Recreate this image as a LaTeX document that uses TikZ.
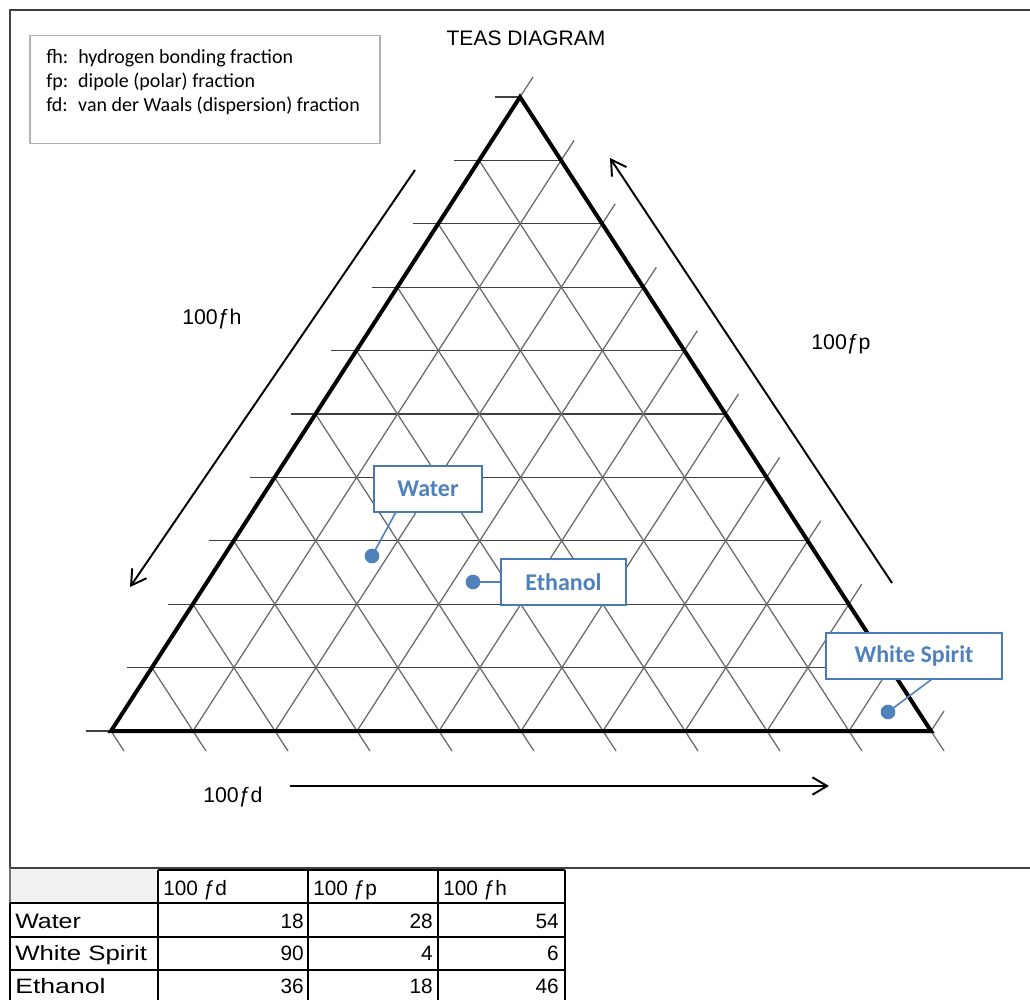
\documentclass[tikz,border=0pt]{standalone}
\usepackage{fontspec}
\setmainfont{Liberation Sans}
\newfontfamily\calfont{Carlito}
\usetikzlibrary{arrows.meta,calc}
\definecolor{callblue}{HTML}{4F81BD}
\definecolor{callborder}{HTML}{4A7AB5}
\tikzset{
  hgrid/.style={draw=black!75, line width=0.95pt},
  dgrid/.style={draw=black!58, line width=0.95pt},
  border/.style={draw=black, line width=3pt, line join=miter},
  axarrow/.style={draw=black, line width=1.45pt, -{Straight Barb[length=11pt,width=13pt,line width=1.45pt]}},
  axlabel/.style={inner sep=0pt, anchor=base west, font=\fontsize{16}{18}\selectfont},
  legendbox/.style={draw=black!30, line width=1.1pt, minimum width=262.5pt, minimum height=81pt, inner sep=0pt},
  legtxt/.style={inner sep=0pt, anchor=base west, font=\calfont\fontsize{15}{18}\selectfont},
  callbox/.style={draw=callborder, line width=1.3pt, fill=white, text=callblue, inner sep=0pt, minimum height=34.5pt, font=\calfont\bfseries\fontsize{18}{20}\selectfont},
  calldot/.style={circle, fill=callblue, inner sep=0pt, minimum size=11pt},
  callline/.style={draw=callblue, line width=1.2pt},
  frameline/.style={draw=black!75, line width=1.5pt},
  tabtxt/.style={inner sep=0pt, font=\fontsize{15.6}{18}\selectfont},
  tthick/.style={draw=black, line width=1.7pt},
  tthin/.style={draw=black, line width=0.8pt}
}
\begin{document}
\begin{tikzpicture}[x=0.75pt,y=-0.75pt]
\useasboundingbox (0,0) rectangle (1030,1000);
\fill[white] (0,0) rectangle (1030,1000);
% frame
\draw[frameline] (1030,10) -- (10,10) -- (10,868) -- (1030,868);
% title
\node[inner sep=0pt, anchor=base, font=\fontsize{15.75}{18}\selectfont] (title) at (526,45) {TEAS DIAGRAM};
% legend
\node[legendbox] (legend) at (205,89.5) {};
\node[legtxt] (leg1) at (46,63) {\makebox[24pt][l]{fh:}hydrogen bonding fraction};
\node[legtxt] (leg2) at (46,87) {\makebox[24pt][l]{fp:}dipole (polar) fraction};
\node[legtxt] (leg3) at (46,111) {\makebox[24pt][l]{fd:}van der Waals (dispersion) fraction};
% triangle corners
\coordinate (A) at (111,731);
\coordinate (B) at (931,731);
\coordinate (C) at (520,97);
% horizontal grid
\foreach \k in {0,...,10} {
  \draw[hgrid] ($(A)!{\k/10}!(C)$) ++(-25,0) -- ($(B)!{\k/10}!(C)$);
}
% lines parallel to left edge (up-right), extended beyond right edge
\foreach \j in {0,...,10} {
  \draw[dgrid] ($(A)!{\j/10}!(B)$) -- ($(B)!{1-\j/10}!(C)$) -- ++(13,-20);
}
% lines parallel to right edge (down-right), extended below base
\foreach \i in {0,...,10} {
  \draw[dgrid] ($(A)!{\i/10}!(C)$) -- ($(A)!{\i/10}!(B)$) -- ++(13,20);
}
% border
\draw[border] (A) -- (B) -- (C) -- cycle;
% axis arrows
\coordinate (h1) at (415,170);
\coordinate (h2) at (130,587);
\draw[axarrow] (h1) -- (h2);
\coordinate (p1) at (892,583);
\coordinate (p2) at (610,158);
\draw[axarrow] (p1) -- (p2);
\coordinate (d1) at (290,786);
\coordinate (d2) at (829,786);
\draw[axarrow] (d1) -- (d2);
% axis labels
\node[axlabel] (lh) at (182,324) {100ƒh};
\node[axlabel] (lp) at (811,349) {100ƒp};
\node[axlabel] (ld) at (203,802) {100ƒd};
% callouts
\node[calldot] (wdot) at (372,556) {};
\node[calldot] (edot) at (473,582) {};
\node[calldot] (sdot) at (888,712) {};
\node[callbox, minimum width=81pt] (wbox) at (428,489) {Water};
\node[callbox, minimum width=93.75pt] (ebox) at (563.5,582) {Ethanol};
\node[callbox, minimum width=132pt] (sbox) at (914,656) {White Spirit};
\coordinate (wanch) at (396,512);
\coordinate (sanch) at (932,679);
\draw[callline] (wdot.center) -- (wanch);
\draw[callline] (edot.center) -- (ebox.west);
\draw[callline] (sdot.center) -- (sanch);
% table
\fill[black!5] (10,869) rectangle (158,903);
\draw[draw=black!55, line width=0.8pt] (10,868) -- (10,903);
\draw[tthin] (308,870) -- (308,1000);
\draw[tthin] (438,870) -- (438,1000);
\draw[tthin] (158,903) -- (158,1000);
\draw[tthin] (10,937) -- (565,937);
\draw[tthick] (158,870) -- (565,870);
\draw[tthick] (158,870) -- (158,903);
\draw[tthick] (565,870) -- (565,1000);
\draw[tthick] (10,903) -- (565,903);
\draw[tthick] (10,903) -- (10,1000);
\draw[tthick] (10,970) -- (565,970);
\node[tabtxt, anchor=base west] (hd) at (163,895) {100 ƒd};
\node[tabtxt, anchor=base west] (hp) at (313,895) {100 ƒp};
\node[tabtxt, anchor=base west] (hh) at (443,895) {100 ƒh};
\node[tabtxt, anchor=base west] (rw) at (15,928) {\scalebox{1.2}[1]{Water}};
\node[tabtxt, anchor=base west] (rs) at (15,960) {\scalebox{1.24}[1]{White Spirit}};
\node[tabtxt, anchor=base west] (re) at (15,993) {\scalebox{1.28}[1]{Ethanol}};
\node[tabtxt, anchor=base east] (w1) at (304,928) {18};
\node[tabtxt, anchor=base east] (w2) at (433,928) {28};
\node[tabtxt, anchor=base east] (w3) at (559,928) {54};
\node[tabtxt, anchor=base east] (s1) at (304,960) {90};
\node[tabtxt, anchor=base east] (s2) at (433,960) {4};
\node[tabtxt, anchor=base east] (s3) at (559,960) {6};
\node[tabtxt, anchor=base east] (e1) at (304,993) {36};
\node[tabtxt, anchor=base east] (e2) at (433,993) {18};
\node[tabtxt, anchor=base east] (e3) at (559,993) {46};
\end{tikzpicture}
\end{document}
